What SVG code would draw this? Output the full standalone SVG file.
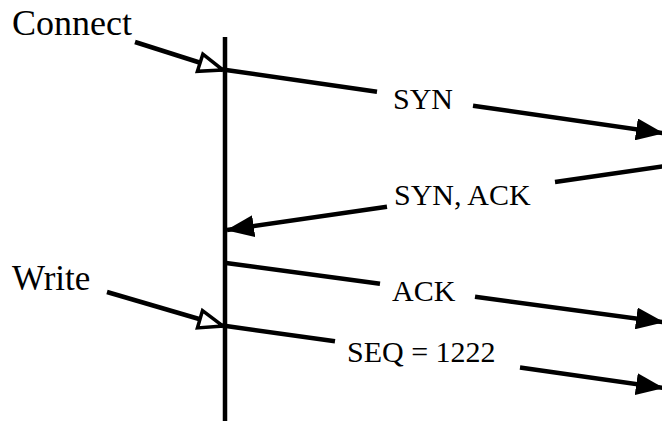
<svg xmlns="http://www.w3.org/2000/svg" width="662" height="421" viewBox="0 0 662 421">
  <style>
    .msg { stroke: #000; stroke-width: 4.5; fill: none; }
    .label { font-family: "Liberation Serif", "Times New Roman", serif; font-size: 30px; fill: #000; }
    .event { font-family: "Liberation Serif", "Times New Roman", serif; font-size: 36px; fill: #000; }
  </style>
  <defs>
    <marker id="solid" markerUnits="userSpaceOnUse" viewBox="0 0 28 22" refX="27" refY="11" markerWidth="28" markerHeight="22" orient="auto">
      <path d="M0,0 L28,11 L0,22 z" fill="#000"/>
    </marker>
    <marker id="open" markerUnits="userSpaceOnUse" viewBox="-2 -2 30 24" refX="25" refY="10" markerWidth="30" markerHeight="24" orient="auto">
      <path d="M1,1 L25,10 L1,19 z" fill="#fff" stroke="#000" stroke-width="3.5" stroke-linejoin="miter"/>
    </marker>
  </defs>

  <!-- timeline of the client -->
  <g id="timeline">
    <line x1="225" y1="37" x2="225" y2="421" stroke="#000" stroke-width="4.5"/>
  </g>

  <!-- application events -->
  <g id="connect">
    <text class="event" x="12" y="35">Connect</text>
  </g>
  <g id="write">
    <text class="event" x="12" y="290" style="font-size:35px">Write</text>
  </g>

  <!-- segment labels -->
  <g id="syn">
    <text class="label" x="393" y="109">SYN</text>
  </g>
  <g id="synack">
    <text class="label" x="394" y="205">SYN, ACK</text>
  </g>
  <g id="ack">
    <text class="label" x="392" y="301">ACK</text>
  </g>
  <g id="seq">
    <text class="label" x="347" y="362">SEQ = 1222</text>
  </g>

  <!-- connectors -->
  <g id="connectors">
    <line class="msg" x1="135" y1="42" x2="223" y2="70" marker-end="url(#open)"/>
    <line class="msg" x1="107" y1="292" x2="223" y2="326" marker-end="url(#open)"/>

    <line class="msg" x1="226" y1="70" x2="377" y2="91.8"/>
    <line class="msg" x1="473" y1="105.7" x2="663" y2="133.2" marker-end="url(#solid)"/>

    <line class="msg" x1="664" y1="166.2" x2="555" y2="182.1"/>
    <line class="msg" x1="387" y1="206.7" x2="227" y2="230" marker-end="url(#solid)"/>

    <line class="msg" x1="226" y1="263" x2="380" y2="283.8"/>
    <line class="msg" x1="475" y1="296.7" x2="663" y2="322.1" marker-end="url(#solid)"/>

    <line class="msg" x1="226" y1="326" x2="335" y2="341.3"/>
    <line class="msg" x1="520" y1="367.6" x2="663" y2="387.9" marker-end="url(#solid)"/>
  </g>
</svg>
